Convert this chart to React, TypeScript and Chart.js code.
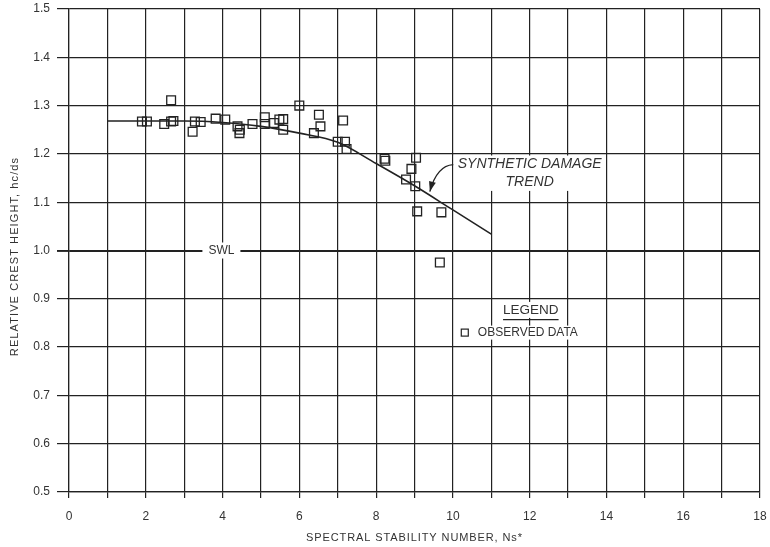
import React, { useEffect, useRef } from "react";
import { Chart, registerables } from "chart.js";

Chart.register(...registerables);

// Observed data points (Spectral stability number vs relative crest height)
const obsX = [1.9, 2.03, 2.48, 2.66, 2.66, 2.72, 3.22, 3.28, 3.43, 3.82, 4.07, 4.39, 4.45, 4.44, 4.78, 5.1, 5.1, 5.34, 5.48, 5.58, 5.58, 6.0, 6.51, 6.55, 6.38, 7.14, 7.0, 7.19, 7.23, 8.22, 8.24, 9.04, 8.92, 8.78, 9.02, 9.07, 9.7, 9.66];
const obsY = [1.267, 1.267, 1.262, 1.311, 1.267, 1.268, 1.246, 1.267, 1.266, 1.273, 1.271, 1.257, 1.25, 1.243, 1.262, 1.276, 1.262, 1.264, 1.271, 1.272, 1.25, 1.3, 1.281, 1.257, 1.243, 1.269, 1.225, 1.225, 1.21, 1.19, 1.186, 1.192, 1.169, 1.147, 1.133, 1.081, 1.079, 0.975];

// Synthetic damage trend line
const trendX = [1, 2, 3, 4, 5, 6, 7, 8, 9, 10, 11];
const trendY = [1.268, 1.268, 1.268, 1.265, 1.257, 1.243, 1.224, 1.18, 1.134, 1.084, 1.034];

const xAxisLabel = "SPECTRAL STABILITY NUMBER, Ns*";
const yAxisLabel = "RELATIVE CREST HEIGHT, hc/ds";

const FONT = '"Liberation Sans", Arial, Helvetica, sans-serif';
const INK = "#222";
const TEXT = "#333";

const annotationPlugin = {
  id: "annots",
  afterDatasetsDraw(chart: any) {
    const { ctx, scales, chartArea } = chart;
    const x = scales.x;
    const y = scales.y;
    const px = (v: number) => x.getPixelForValue(v);
    const py = (v: number) => y.getPixelForValue(v);
    ctx.save();
    ctx.textAlign = "center";
    ctx.textBaseline = "middle";

    // SWL label on the 1.0 line
    ctx.font = `12px ${FONT}`;
    const swlX = px(3.97);
    const swlY = py(1.0);
    const sw = ctx.measureText("SWL").width;
    ctx.fillStyle = "#fff";
    ctx.fillRect(swlX - sw / 2 - 6, swlY - 8, sw + 12, 16);
    ctx.fillStyle = TEXT;
    ctx.fillText("SWL", swlX, swlY + 0.5);

    // Synthetic damage trend label
    ctx.font = `italic 14px ${FONT}`;
    const t1x = px(12.0);
    const t1y = py(1.178);
    const t2y = py(1.142);
    const w1 = ctx.measureText("SYNTHETIC DAMAGE").width;
    ctx.fillStyle = "#fff";
    ctx.fillRect(t1x - w1 / 2 - 4, t1y - 9, w1 + 8, t2y - t1y + 18);
    ctx.fillStyle = TEXT;
    ctx.fillText("SYNTHETIC DAMAGE", t1x, t1y);
    ctx.fillText("TREND", t1x, t2y);

    // Curved arrow
    const sx = px(10.01), sy = py(1.178);
    const cx = px(9.58), cy = py(1.176);
    const ex = px(9.4), ey = py(1.122);
    ctx.strokeStyle = INK;
    ctx.lineWidth = 1.3;
    ctx.beginPath();
    ctx.moveTo(sx, sy);
    ctx.quadraticCurveTo(cx, cy, ex, ey);
    ctx.stroke();
    const ang = Math.atan2(ey - cy, ex - cx);
    const al = 10, aw = 3.5;
    ctx.fillStyle = INK;
    ctx.beginPath();
    ctx.moveTo(ex, ey);
    ctx.lineTo(ex - al * Math.cos(ang) + aw * Math.sin(ang), ey - al * Math.sin(ang) - aw * Math.cos(ang));
    ctx.lineTo(ex - al * Math.cos(ang) - aw * Math.sin(ang), ey - al * Math.sin(ang) + aw * Math.cos(ang));
    ctx.closePath();
    ctx.fill();

    // Legend
    ctx.font = `13.5px ${FONT}`;
    const lx = px(12.03);
    const ly = py(0.877);
    const lw = ctx.measureText("LEGEND").width;
    ctx.fillStyle = "#fff";
    ctx.fillRect(lx - lw / 2 - 3, ly - 8, lw + 6, 16);
    ctx.fillStyle = TEXT;
    ctx.fillText("LEGEND", lx, ly);
    const uy = py(0.857);
    ctx.strokeStyle = INK;
    ctx.lineWidth = 1.3;
    ctx.beginPath();
    ctx.moveTo(lx - lw / 2, uy);
    ctx.lineTo(lx + lw / 2, uy);
    ctx.stroke();

    ctx.font = `12px ${FONT}`;
    const oy = py(0.83);
    const sqx = px(10.31);
    const tx = px(10.65);
    const ow = ctx.measureText("OBSERVED DATA").width;
    ctx.fillStyle = "#fff";
    ctx.fillRect(sqx - 7, oy - 7, tx + ow + 4 - (sqx - 7), 14);
    ctx.strokeStyle = INK;
    ctx.lineWidth = 1.2;
    ctx.strokeRect(sqx - 3.5, oy - 3.5, 7, 7);
    ctx.fillStyle = TEXT;
    ctx.textAlign = "left";
    ctx.fillText("OBSERVED DATA", tx, oy + 0.5);

    // Axis titles (letter-spaced, like the original typesetting)
    ctx.font = `11px ${FONT}`;
    (ctx as any).letterSpacing = "0.9px";
    ctx.fillStyle = TEXT;
    ctx.textAlign = "center";
    ctx.textBaseline = "middle";
    ctx.fillText(xAxisLabel, (chartArea.left + chartArea.right) / 2, 538);
    (ctx as any).letterSpacing = "1.1px";
    ctx.translate(15, (chartArea.top + chartArea.bottom) / 2 + 6);
    ctx.rotate(-Math.PI / 2);
    ctx.fillText(yAxisLabel, 0, 0);

    ctx.restore();
  },
};

export default function App() {
  const ref = useRef<HTMLCanvasElement | null>(null);

  useEffect(() => {
    if (!ref.current) return;
    const chart = new Chart(ref.current, {
      type: "scatter",
      data: {
        datasets: [
          {
            label: "Synthetic damage trend",
            data: trendX.map((v, i) => ({ x: v, y: trendY[i] })),
            showLine: true,
            borderColor: INK,
            borderWidth: 1.6,
            pointRadius: 0,
            fill: false,
            cubicInterpolationMode: "monotone",
          } as any,
          {
            label: "Observed data",
            data: obsX.map((v, i) => ({ x: v, y: obsY[i] })),
            pointStyle: "rect",
            pointRadius: 6.2,
            pointBorderWidth: 1.3,
            pointBorderColor: INK,
            pointBackgroundColor: "rgba(0,0,0,0)",
            showLine: false,
          } as any,
        ],
      },
      options: {
        animation: false,
        responsive: false,
        maintainAspectRatio: false,
        layout: { padding: { left: 0, right: 10, top: 9, bottom: 0 } },
        plugins: {
          legend: { display: false },
          tooltip: { enabled: false },
        },
        scales: {
          x: {
            type: "linear",
            min: 0,
            max: 18,
            position: "bottom",
            ticks: {
              stepSize: 1,
              autoSkip: false,
              maxRotation: 0,
              color: TEXT,
              font: { family: FONT, size: 12 },
              padding: 11,
              callback: (v: any) => (Number(v) % 2 === 0 ? String(v) : ""),
            },
            grid: { color: INK, lineWidth: 1.2, tickLength: 6 },
            border: { color: INK, width: 1.2 },
            title: { display: false, text: xAxisLabel },
            afterFit: (s: any) => {
              s.height = 55;
              s.paddingLeft = 0;
              s.paddingRight = 0;
              s.paddingTop = 0;
              s.paddingBottom = 0;
            },
          },
          y: {
            type: "linear",
            min: 0.5,
            max: 1.5,
            ticks: {
              stepSize: 0.1,
              color: TEXT,
              font: { family: FONT, size: 12 },
              padding: 7,
              callback: (v: any) => Number(v).toFixed(1),
            },
            grid: {
              color: INK,
              tickLength: 12,
              lineWidth: (c: any) => (c.tick && Math.abs(c.tick.value - 1) < 1e-6 ? 1.9 : 1.2),
            },
            border: { color: INK, width: 1.2 },
            title: { display: false, text: yAxisLabel },
            afterFit: (s: any) => {
              s.width = 69;
              s.paddingLeft = 0;
              s.paddingRight = 0;
              s.paddingTop = 0;
              s.paddingBottom = 0;
            },
          },
        },
      } as any,
      plugins: [annotationPlugin],
    });
    return () => chart.destroy();
  }, []);

  return (
    <div style={{ position: "absolute", left: 0, top: 0, width: 770, height: 547, background: "#fff" }}>
      <canvas ref={ref} width={770} height={547} />
    </div>
  );
}
